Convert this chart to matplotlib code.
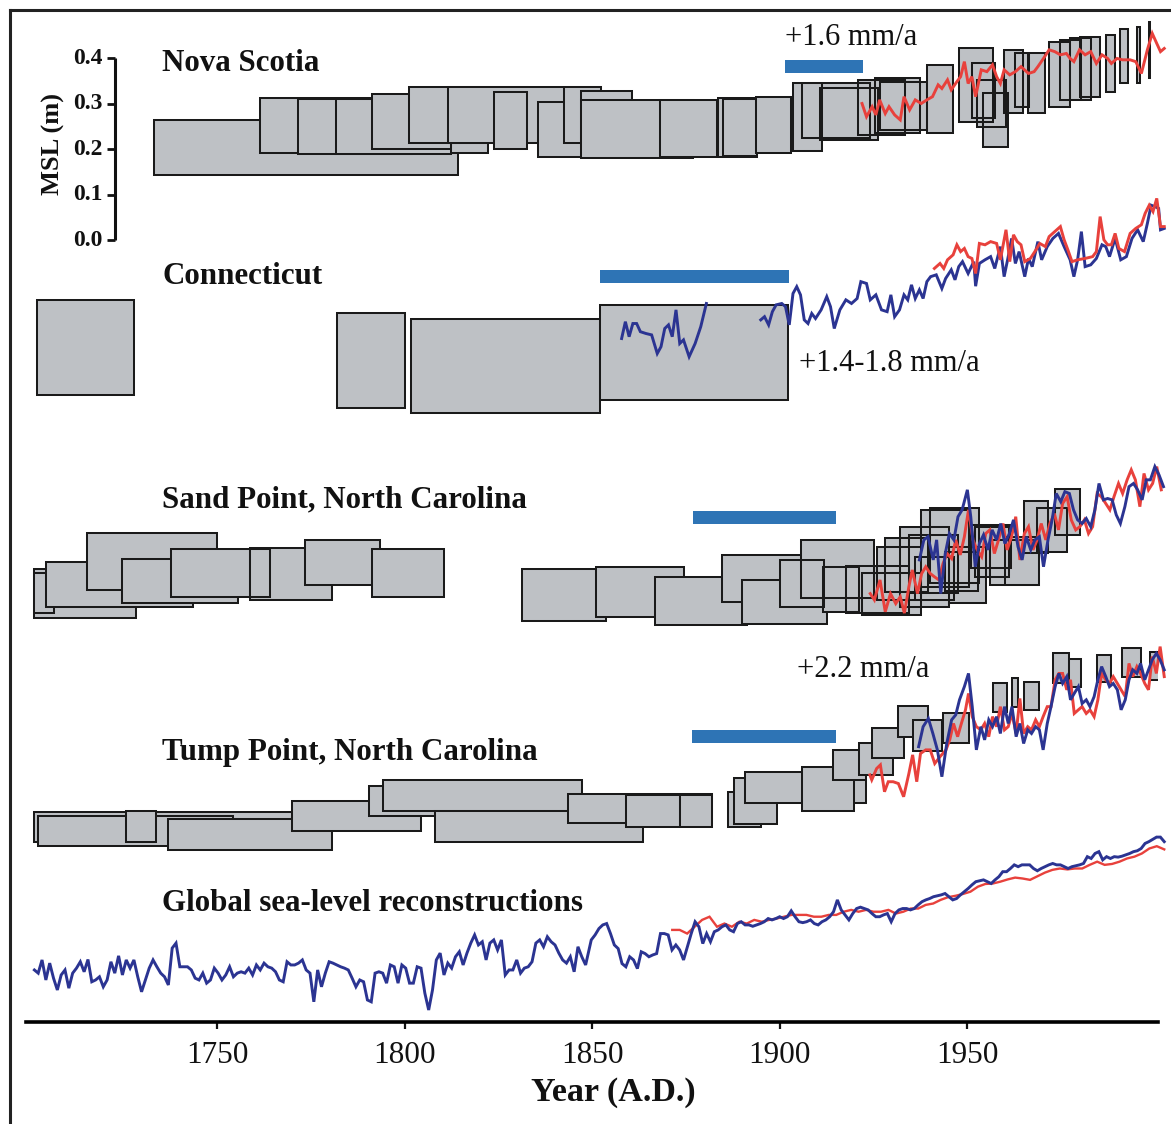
import numpy as np
import matplotlib
matplotlib.use("Agg")
import matplotlib.pyplot as plt
from matplotlib.patches import Rectangle
from matplotlib.lines import Line2D

plt.rcParams['font.family'] = ['Liberation Serif', 'DejaVu Serif']

# ---------------- DATA (years A.D., metres relative to each panel's own datum) ----------------
# Proxy boxes: (start year, end year, low MSL, high MSL)
nova_boxes = [
    (1733.2, 1814.3, 0.143, 0.264), (1761.5, 1822.3, 0.191, 0.312), (1771.6, 1801.7, 0.189, 0.310),
    (1781.7, 1812.4, 0.189, 0.310), (1791.3, 1812.4, 0.200, 0.321), (1801.2, 1832.7, 0.213, 0.336),
    (1811.6, 1852.4, 0.213, 0.336), (1823.9, 1832.7, 0.200, 0.325), (1835.6, 1858.8, 0.182, 0.303),
    (1842.5, 1852.4, 0.213, 0.336), (1847.1, 1860.7, 0.207, 0.327), (1847.1, 1876.9, 0.180, 0.308),
    (1868.4, 1876.9, 0.182, 0.303), (1868.0, 1883.4, 0.182, 0.308), (1883.6, 1894.0, 0.182, 0.312),
    (1885.0, 1894.0, 0.185, 0.310), (1893.7, 1903.1, 0.191, 0.314), (1903.6, 1911.3, 0.196, 0.345),
    (1906.0, 1924.1, 0.224, 0.345), (1910.8, 1926.3, 0.220, 0.334), (1921.0, 1933.5, 0.231, 0.352),
    (1925.5, 1937.5, 0.235, 0.356), (1926.8, 1939.3, 0.242, 0.347), (1939.3, 1946.3, 0.235, 0.385),
    (1947.9, 1956.9, 0.259, 0.422), (1951.3, 1957.5, 0.268, 0.389), (1952.7, 1960.4, 0.248, 0.352),
    (1954.3, 1960.9, 0.204, 0.323), (1959.9, 1964.9, 0.279, 0.418), (1962.8, 1966.5, 0.292, 0.411),
    (1966.3, 1970.8, 0.279, 0.411), (1971.9, 1977.5, 0.292, 0.435), (1974.8, 1980.4, 0.308, 0.440),
    (1977.5, 1983.1, 0.308, 0.444), (1980.1, 1985.5, 0.314, 0.446), (1987.1, 1989.5, 0.325, 0.451),
    (1990.8, 1993.0, 0.345, 0.464), (1995.3, 1996.1, 0.345, 0.468), (1998.5, 1998.7, 0.356, 0.479),
]
conn_boxes = [
    (1702.0, 1727.9, 0.121, 0.330), (1782.0, 1800.1, 0.092, 0.301),
    (1801.7, 1852.1, 0.081, 0.288), (1852.1, 1902.3, 0.110, 0.319),
]
sand_boxes = [
    (1701.2, 1728.4, 0.070, 0.178), (1701.2, 1706.5, 0.081, 0.169), (1704.4, 1743.6, 0.095, 0.193),
    (1715.3, 1750.0, 0.132, 0.257), (1724.7, 1755.6, 0.103, 0.200), (1737.7, 1764.1, 0.116, 0.222),
    (1758.8, 1780.7, 0.110, 0.224), (1758.8, 1764.1, 0.116, 0.222), (1773.5, 1793.5, 0.143, 0.242),
    (1791.3, 1810.5, 0.116, 0.222),
    (1831.3, 1853.7, 0.064, 0.178), (1851.1, 1874.5, 0.073, 0.182), (1866.8, 1891.3, 0.055, 0.160),
    (1884.7, 1908.7, 0.105, 0.209), (1890.0, 1912.7, 0.057, 0.154), (1900.1, 1911.9, 0.095, 0.198),
    (1905.7, 1925.2, 0.114, 0.242), (1911.6, 1921.2, 0.084, 0.182), (1917.7, 1934.5, 0.081, 0.185),
    (1922.0, 1937.7, 0.077, 0.169), (1926.0, 1937.7, 0.110, 0.226), (1928.1, 1939.6, 0.127, 0.246),
    (1932.1, 1945.2, 0.095, 0.270), (1934.5, 1947.5, 0.125, 0.253), (1937.7, 1950.5, 0.138, 0.308),
    (1940.1, 1953.2, 0.147, 0.312), (1945.2, 1955.0, 0.103, 0.226), (1951.1, 1961.7, 0.180, 0.275),
    (1952.1, 1961.2, 0.160, 0.270), (1956.1, 1969.2, 0.143, 0.242), (1960.1, 1969.2, 0.143, 0.248),
    (1965.2, 1971.6, 0.213, 0.327), (1968.7, 1976.7, 0.215, 0.312), (1973.5, 1980.1, 0.253, 0.354),
    (1936.0, 1946.5, 0.110, 0.205), (1944.0, 1953.0, 0.130, 0.215),
]
tump_boxes = [
    (1701.2, 1772.1, 0.084, 0.149), (1702.3, 1754.3, 0.075, 0.141), (1725.7, 1733.7, 0.084, 0.152),
    (1737.0, 1780.7, 0.066, 0.134), (1770.0, 1804.4, 0.108, 0.174), (1790.5, 1818.8, 0.141, 0.207),
    (1794.3, 1847.3, 0.152, 0.220), (1808.1, 1863.6, 0.084, 0.152), (1843.6, 1882.0, 0.125, 0.189),
    (1859.1, 1873.5, 0.116, 0.187), (1873.5, 1882.0, 0.116, 0.187), (1886.3, 1895.1, 0.116, 0.193),
    (1887.9, 1899.3, 0.123, 0.224), (1890.8, 1923.1, 0.169, 0.237), (1905.9, 1919.9, 0.152, 0.248),
    (1914.3, 1923.1, 0.220, 0.286), (1921.2, 1930.3, 0.231, 0.301), (1924.7, 1933.2, 0.268, 0.334),
    (1931.6, 1939.6, 0.314, 0.382), (1935.6, 1943.3, 0.284, 0.352), (1943.6, 1950.5, 0.301, 0.367),
    (1956.9, 1960.7, 0.369, 0.433), (1962.0, 1963.6, 0.380, 0.444), (1965.2, 1969.2, 0.374, 0.435),
    (1972.9, 1977.2, 0.433, 0.499), (1977.2, 1980.4, 0.424, 0.486), (1984.7, 1988.4, 0.435, 0.495),
    (1991.3, 1996.4, 0.446, 0.510), (1998.8, 2002.5, 0.440, 0.501),
]

# Rate periods (blue bars): (start, end, level)
nova_rate = (1901.5, 1922.3, 0.382)
conn_rate = (1852.1, 1902.5, 0.382)
sand_rate = (1876.9, 1915.1, 0.292)
tump_rate = (1876.7, 1915.1, 0.315)

# Nova Scotia tide gauge (red)
nova_red_yr = [1922.0, 1923.2, 1924.7, 1925.7, 1926.7, 1928.2, 1929.2, 1930.7, 1932.2, 1933.2, 1934.7, 1936.2,
               1937.8, 1939.3, 1940.8, 1942.3, 1943.3, 1944.8, 1945.8, 1947.3, 1948.3, 1949.3, 1950.3, 1951.3,
               1952.3, 1953.8, 1955.3, 1956.8, 1957.9, 1958.9, 1959.9, 1961.4, 1962.9, 1964.4, 1966.4, 1967.9,
               1968.9, 1970.4, 1971.9, 1973.4, 1974.9, 1976.5, 1977.5, 1978.5, 1980.0, 1981.5, 1983.0, 1984.5,
               1986.0, 1987.5, 1988.5, 1990.0, 1991.5, 1993.5, 1995.0, 1996.5, 1998.1, 1999.4, 2000.6, 2001.6,
               2002.6]
nova_red = [0.300, 0.271, 0.293, 0.275, 0.308, 0.278, 0.293, 0.275, 0.264, 0.315, 0.286, 0.308, 0.300, 0.308,
            0.315, 0.341, 0.333, 0.352, 0.330, 0.348, 0.359, 0.392, 0.344, 0.359, 0.315, 0.374, 0.370, 0.385,
            0.359, 0.344, 0.374, 0.363, 0.370, 0.381, 0.366, 0.370, 0.381, 0.399, 0.418, 0.414, 0.407, 0.410,
            0.399, 0.392, 0.418, 0.407, 0.414, 0.388, 0.407, 0.399, 0.388, 0.399, 0.396, 0.396, 0.392, 0.366,
            0.418, 0.454, 0.432, 0.414, 0.421]

# Connecticut tide gauges
conn_blue1_yr = [1857.9, 1858.9, 1859.9, 1860.9, 1861.9, 1862.9, 1864.4, 1865.9, 1867.4, 1868.4, 1869.4, 1870.4,
                 1871.4, 1872.4, 1873.4, 1874.4, 1875.9, 1877.5, 1879.0, 1880.5]
conn_blue1 = [0.245, 0.282, 0.249, 0.278, 0.278, 0.260, 0.256, 0.253, 0.212, 0.227, 0.267, 0.275, 0.249, 0.308,
              0.234, 0.242, 0.205, 0.234, 0.271, 0.322]
conn_blue2_yr = [1895.0, 1896.0, 1897.1, 1898.1, 1899.1, 1900.6, 1901.6, 1902.6, 1903.6, 1904.6, 1905.6, 1906.6,
                 1907.6, 1908.6, 1909.6, 1911.1, 1912.6, 1913.6, 1914.6, 1916.1, 1917.7, 1919.2, 1920.7, 1921.7,
                 1923.2, 1924.2, 1925.7, 1927.2, 1928.7, 1929.7, 1930.7, 1932.0, 1933.2, 1934.2, 1935.2, 1936.2,
                 1937.3, 1938.3, 1939.3, 1940.3, 1941.8, 1943.3, 1944.3, 1945.8, 1946.8, 1947.8, 1948.8, 1950.3,
                 1951.8, 1952.3, 1953.3, 1954.8, 1956.3, 1957.4, 1958.9, 1959.9, 1960.9, 1961.9, 1962.9, 1963.9,
                 1965.4, 1966.4, 1967.4, 1968.9, 1969.9, 1971.4, 1972.9, 1974.4, 1975.9, 1977.5, 1978.5, 1979.5,
                 1980.5, 1981.5, 1983.0, 1984.5, 1986.0, 1987.0, 1988.0, 1989.5, 1991.0, 1992.5, 1994.0, 1995.5,
                 1997.0, 1998.1, 1999.1, 2000.1, 2001.1, 2001.6, 2002.6]
conn_blue2 = [0.286, 0.293, 0.275, 0.304, 0.319, 0.322, 0.315, 0.275, 0.344, 0.359, 0.341, 0.286, 0.278, 0.300,
              0.289, 0.308, 0.337, 0.315, 0.267, 0.308, 0.330, 0.322, 0.333, 0.370, 0.366, 0.330, 0.341, 0.308,
              0.304, 0.341, 0.293, 0.308, 0.341, 0.330, 0.363, 0.333, 0.352, 0.333, 0.370, 0.381, 0.385, 0.355,
              0.377, 0.396, 0.374, 0.403, 0.414, 0.388, 0.414, 0.360, 0.410, 0.418, 0.425, 0.399, 0.447, 0.381,
              0.421, 0.465, 0.410, 0.436, 0.381, 0.421, 0.403, 0.458, 0.418, 0.447, 0.465, 0.476, 0.447, 0.418,
              0.381, 0.418, 0.480, 0.403, 0.407, 0.421, 0.451, 0.447, 0.425, 0.465, 0.418, 0.425, 0.465, 0.484,
              0.458, 0.498, 0.538, 0.535, 0.531, 0.484, 0.487]
conn_red_yr = [1941.3, 1942.8, 1943.8, 1944.8, 1946.3, 1947.3, 1948.3, 1949.3, 1950.3, 1951.3, 1952.3, 1953.3,
               1954.8, 1956.3, 1957.9, 1958.9, 1960.4, 1961.4, 1962.4, 1963.4, 1964.4, 1965.4, 1966.9, 1968.4,
               1969.4, 1970.9, 1971.9, 1973.4, 1974.9, 1975.9, 1976.9, 1978.0, 1979.5, 1981.5, 1983.5, 1984.5,
               1985.5, 1986.5, 1987.5, 1988.5, 1989.5, 1990.5, 1992.0, 1993.5, 1995.0, 1996.5, 1997.5, 1998.6,
               1999.6, 2000.6, 2001.6, 2002.6]
conn_red = [0.399, 0.410, 0.399, 0.418, 0.429, 0.451, 0.436, 0.443, 0.425, 0.421, 0.388, 0.454, 0.451, 0.458,
            0.454, 0.418, 0.484, 0.414, 0.473, 0.458, 0.451, 0.414, 0.421, 0.440, 0.454, 0.447, 0.469, 0.480,
            0.491, 0.462, 0.440, 0.414, 0.418, 0.421, 0.425, 0.436, 0.513, 0.462, 0.451, 0.451, 0.476, 0.443,
            0.436, 0.476, 0.487, 0.495, 0.520, 0.538, 0.524, 0.553, 0.491, 0.491]

# Sand Point tide gauges
sand_red_yr = [1924.2, 1925.3, 1926.8, 1928.2, 1929.6, 1931.0, 1932.2, 1933.3, 1934.5, 1935.4, 1936.8, 1937.9,
               1939.0, 1940.2, 1941.3, 1942.5, 1943.6, 1944.7, 1945.9, 1947.0, 1948.2, 1949.3, 1950.4, 1951.6,
               1952.7, 1953.9, 1955.0, 1956.1, 1957.3, 1958.4, 1959.6, 1960.7, 1961.9, 1963.0, 1964.1, 1965.3,
               1966.4, 1967.6, 1968.7, 1969.8, 1971.0, 1972.1, 1973.3, 1974.4, 1975.5, 1976.7, 1977.8, 1979.0,
               1980.1, 1981.3, 1982.4, 1983.5, 1984.7, 1985.8, 1987.0, 1988.1, 1989.2, 1990.4, 1991.5, 1992.7,
               1993.8, 1994.9, 1996.1, 1997.2, 1998.4, 1999.5, 2000.6, 2001.8]
sand_red = [0.124, 0.110, 0.154, 0.084, 0.124, 0.102, 0.117, 0.081, 0.139, 0.176, 0.124, 0.168, 0.183, 0.168,
            0.161, 0.154, 0.190, 0.212, 0.201, 0.242, 0.209, 0.249, 0.308, 0.242, 0.220, 0.205, 0.256, 0.264,
            0.212, 0.242, 0.278, 0.220, 0.249, 0.293, 0.198, 0.256, 0.271, 0.220, 0.242, 0.278, 0.242, 0.278,
            0.300, 0.264, 0.322, 0.337, 0.286, 0.264, 0.271, 0.286, 0.256, 0.271, 0.344, 0.337, 0.322, 0.308,
            0.337, 0.366, 0.344, 0.374, 0.396, 0.374, 0.315, 0.388, 0.352, 0.366, 0.403, 0.352]
sand_blue_yr = [1937.3, 1938.5, 1939.6, 1941.0, 1941.9, 1943.0, 1944.2, 1945.3, 1946.5, 1947.6, 1948.7, 1950.1,
                1951.0, 1952.2, 1953.3, 1954.4, 1955.6, 1956.7, 1957.9, 1959.0, 1960.1, 1961.3, 1962.4, 1963.6,
                1964.7, 1965.8, 1967.0, 1968.1, 1969.3, 1970.4, 1971.6, 1972.7, 1973.8, 1975.0, 1976.1, 1977.3,
                1978.4, 1979.5, 1980.7, 1981.8, 1983.0, 1984.1, 1985.2, 1986.4, 1987.5, 1988.7, 1989.8, 1990.9,
                1992.1, 1993.2, 1994.4, 1995.5, 1996.7, 1997.8, 1998.9, 2000.1, 2001.2, 2002.4]
sand_blue = [0.198, 0.242, 0.249, 0.198, 0.242, 0.124, 0.212, 0.256, 0.242, 0.293, 0.308, 0.352, 0.293, 0.183,
             0.234, 0.253, 0.220, 0.264, 0.242, 0.278, 0.234, 0.256, 0.286, 0.227, 0.198, 0.249, 0.220, 0.242,
             0.249, 0.183, 0.242, 0.286, 0.344, 0.326, 0.348, 0.344, 0.308, 0.286, 0.278, 0.289, 0.271, 0.308,
             0.366, 0.330, 0.333, 0.330, 0.297, 0.278, 0.315, 0.359, 0.366, 0.352, 0.330, 0.374, 0.374, 0.403,
             0.385, 0.359]

# Tump Point tide gauges
tump_red_yr = [1924.1, 1924.6, 1925.9, 1926.9, 1928.0, 1929.0, 1930.3, 1931.7, 1933.1, 1934.5, 1935.5, 1936.6,
               1937.6, 1939.0, 1940.2, 1941.4, 1942.8, 1944.4, 1945.4, 1946.4, 1947.5, 1948.5, 1949.6, 1950.4,
               1951.4, 1952.5, 1953.7, 1954.7, 1955.8, 1956.8, 1957.9, 1958.9, 1960.0, 1961.0, 1962.0, 1963.1,
               1964.1, 1965.1, 1966.2, 1967.2, 1968.3, 1969.3, 1970.3, 1971.4, 1972.4, 1973.5, 1974.5, 1975.5,
               1976.6, 1977.6, 1978.6, 1979.7, 1980.7, 1981.8, 1982.8, 1983.9, 1984.9, 1985.9, 1987.0, 1988.0,
               1989.0, 1990.1, 1991.1, 1992.2, 1993.2, 1994.2, 1995.3, 1996.3, 1997.4, 1998.4, 1999.4, 2000.5,
               2001.5, 2002.6]
tump_red = [0.231, 0.220, 0.245, 0.253, 0.194, 0.216, 0.216, 0.212, 0.183, 0.234, 0.275, 0.216, 0.278, 0.286,
            0.286, 0.256, 0.271, 0.286, 0.308, 0.344, 0.315, 0.344, 0.374, 0.410, 0.359, 0.337, 0.330, 0.344,
            0.315, 0.359, 0.337, 0.381, 0.330, 0.337, 0.366, 0.322, 0.399, 0.322, 0.337, 0.330, 0.352, 0.337,
            0.359, 0.381, 0.381, 0.440, 0.454, 0.454, 0.418, 0.440, 0.366, 0.374, 0.381, 0.366, 0.374, 0.359,
            0.396, 0.454, 0.440, 0.432, 0.447, 0.432, 0.418, 0.403, 0.476, 0.447, 0.469, 0.454, 0.432, 0.418,
            0.491, 0.454, 0.513, 0.447]
tump_blue_yr = [1937.1, 1938.3, 1939.7, 1940.9, 1942.1, 1943.3, 1944.6, 1945.9, 1947.0, 1948.0, 1949.3, 1950.4,
                1951.4, 1952.5, 1953.7, 1954.7, 1955.8, 1956.8, 1957.9, 1958.9, 1960.0, 1961.0, 1962.0, 1963.1,
                1964.1, 1965.1, 1966.2, 1967.2, 1968.3, 1969.3, 1970.3, 1971.4, 1972.4, 1973.5, 1974.5, 1975.5,
                1976.6, 1977.6, 1978.6, 1979.7, 1980.7, 1981.8, 1982.8, 1983.9, 1984.9, 1985.9, 1987.0, 1988.0,
                1989.0, 1990.1, 1991.1, 1992.2, 1993.2, 1994.2, 1995.3, 1996.3, 1997.4, 1998.4, 1999.4, 2000.5,
                2001.5, 2002.6]
tump_blue = [0.293, 0.337, 0.355, 0.322, 0.286, 0.227, 0.300, 0.352, 0.363, 0.396, 0.425, 0.454, 0.381, 0.286,
             0.337, 0.308, 0.352, 0.337, 0.359, 0.322, 0.381, 0.344, 0.381, 0.315, 0.344, 0.300, 0.330, 0.322,
             0.337, 0.330, 0.286, 0.344, 0.381, 0.425, 0.454, 0.432, 0.447, 0.396, 0.410, 0.425, 0.388, 0.396,
             0.381, 0.403, 0.440, 0.469, 0.447, 0.425, 0.432, 0.418, 0.374, 0.396, 0.440, 0.462, 0.454, 0.476,
             0.440, 0.462, 0.484, 0.498, 0.484, 0.462]

# Global reconstructions
glob_blue_early = [0.088, 0.081, 0.110, 0.066, 0.103, 0.070, 0.044, 0.077, 0.088, 0.048, 0.081, 0.092, 0.106,
                   0.084, 0.111, 0.062, 0.066, 0.073, 0.051, 0.066, 0.106, 0.081, 0.119, 0.077, 0.110, 0.092,
                   0.110, 0.073, 0.040, 0.066, 0.092, 0.110, 0.095, 0.081, 0.073, 0.055, 0.136, 0.147, 0.095,
                   0.095, 0.095, 0.088, 0.070, 0.066, 0.081, 0.059, 0.066, 0.092, 0.081, 0.066, 0.077, 0.095,
                   0.073, 0.081, 0.084, 0.081, 0.092, 0.077, 0.099, 0.088, 0.103, 0.095, 0.092, 0.084, 0.066,
                   0.062, 0.106, 0.099, 0.099, 0.103, 0.110, 0.088, 0.081, 0.018, 0.088, 0.051, 0.081, 0.106,
                   0.103, 0.099, 0.095, 0.092, 0.088, 0.070, 0.051, 0.066, 0.062, 0.022, 0.018, 0.081, 0.084,
                   0.081, 0.059, 0.099, 0.095, 0.059, 0.099, 0.092, 0.059, 0.059, 0.095, 0.092, 0.037, 0.000,
                   0.044, 0.110, 0.125, 0.077, 0.103, 0.092, 0.117, 0.128, 0.099, 0.125, 0.147, 0.165, 0.143,
                   0.150, 0.110, 0.147, 0.154, 0.132, 0.154, 0.077, 0.088, 0.088, 0.110, 0.081, 0.092, 0.095,
                   0.106, 0.147, 0.154, 0.139, 0.161, 0.150, 0.143, 0.125, 0.110, 0.103, 0.117, 0.084, 0.139,
                   0.117, 0.099]
glob_blue_early_span = (1701.3, 1848.3)
glob_blue_late = [0.154, 0.165, 0.179, 0.187, 0.190, 0.168, 0.143, 0.135, 0.102, 0.095, 0.117, 0.110, 0.091,
                  0.128, 0.124, 0.117, 0.121, 0.124, 0.168, 0.168, 0.165, 0.132, 0.143, 0.132, 0.110, 0.139,
                  0.168, 0.194, 0.183, 0.146, 0.168, 0.150, 0.172, 0.176, 0.183, 0.187, 0.176, 0.172, 0.190,
                  0.194, 0.187, 0.187, 0.184, 0.187, 0.190, 0.194, 0.201, 0.198, 0.201, 0.205, 0.201, 0.205,
                  0.218, 0.205, 0.194, 0.192, 0.194, 0.198, 0.190, 0.187, 0.194, 0.198, 0.205, 0.216, 0.242,
                  0.220, 0.209, 0.198, 0.212, 0.223, 0.226, 0.223, 0.220, 0.212, 0.205, 0.205, 0.209, 0.212,
                  0.194, 0.212, 0.220, 0.223, 0.223, 0.220, 0.223, 0.231, 0.238, 0.242, 0.245, 0.249, 0.251,
                  0.253, 0.256, 0.249, 0.242, 0.245, 0.253, 0.260, 0.267, 0.275, 0.282, 0.284, 0.286, 0.282,
                  0.278, 0.286, 0.293, 0.304, 0.304, 0.311, 0.319, 0.315, 0.319, 0.319, 0.319, 0.311, 0.306,
                  0.311, 0.315, 0.319, 0.322, 0.319, 0.319, 0.315, 0.311, 0.315, 0.317, 0.319, 0.322, 0.337,
                  0.333, 0.344, 0.348, 0.330, 0.337, 0.333, 0.337, 0.336, 0.338, 0.341, 0.344, 0.348, 0.350,
                  0.355, 0.366, 0.370, 0.375, 0.380, 0.380, 0.370]
glob_blue_late_span = (1849.8, 2002.6)
glob_red = [0.176, 0.176, 0.168, 0.183, 0.198, 0.205, 0.183, 0.190, 0.183, 0.194, 0.190, 0.198, 0.194, 0.198,
            0.201, 0.205, 0.209, 0.209, 0.209, 0.205, 0.205, 0.209, 0.209, 0.216, 0.220, 0.216, 0.220, 0.216,
            0.216, 0.220, 0.212, 0.216, 0.223, 0.223, 0.231, 0.234, 0.242, 0.248, 0.251, 0.255, 0.260, 0.271,
            0.277, 0.278, 0.282, 0.287, 0.291, 0.289, 0.286, 0.294, 0.302, 0.308, 0.311, 0.309, 0.311, 0.311,
            0.319, 0.326, 0.319, 0.321, 0.326, 0.333, 0.337, 0.344, 0.355, 0.360, 0.353]
glob_red_span = (1871.4, 2002.6)

scale_ticks = [0.0, 0.1, 0.2, 0.3, 0.4]
scale_labels = ['0.0', '0.1', '0.2', '0.3', '0.4']
x_ticks = [1750, 1800, 1850, 1900, 1950]

# ---------------- LAYOUT ----------------
W, H = 1171, 1124
PXM = 455.0          # pixels per metre
PXY = 3.75           # pixels per year
AX_L, AX_R, AX_B, AX_T = 26, 1158, 1022, 10
OFF = {'nova': (AX_B - 240) / PXM, 'conn': (AX_B - 450) / PXM, 'sand': (AX_B - 650) / PXM,
       'tump': (AX_B - 880) / PXM, 'glob': (AX_B - 1010) / PXM}

BOX_FACE = '#BEC1C5'
BOX_EDGE = '#1A1A1A'
BAR = '#2E74B5'
BLUE = '#2B3492'
RED = '#E8413C'
TXT = '#111111'

fig = plt.figure(figsize=(W / 100, H / 100), dpi=100)
ax = fig.add_axes([AX_L / W, (H - AX_B) / H, (AX_R - AX_L) / W, (AX_B - AX_T) / H])
x0 = 1700 + (AX_L - 29.5) / PXY
x1 = 1700 + (AX_R - 29.5) / PXY
ax.set_xlim(x0, x1)
ax.set_ylim(0, (AX_B - AX_T) / PXM)

for s in ['left', 'right', 'top']:
    ax.spines[s].set_visible(False)
ax.spines['bottom'].set_linewidth(2.6)
ax.set_yticks([])
ax.set_xticks(x_ticks)
ax.tick_params(axis='x', direction='out', length=5, width=1.6, pad=9, labelsize=22.5, colors=TXT)
ax.set_facecolor('none')


def draw_boxes(boxes, off, edges_on_top_from=None):
    """Boxes drawn in order; boxes starting after `edges_on_top_from` get their outlines
    drawn above all fills (dense overlapping clusters)."""
    late = []
    for i, (a, b, lo, hi) in enumerate(boxes):
        if edges_on_top_from is not None and a >= edges_on_top_from:
            late.append((a, b, lo, hi))
            ax.add_patch(Rectangle((a, lo + off), b - a, hi - lo, facecolor=BOX_FACE,
                                   edgecolor='none', zorder=2.5))
        else:
            ax.add_patch(Rectangle((a, lo + off), b - a, hi - lo, facecolor=BOX_FACE,
                                   edgecolor=BOX_EDGE, lw=1.45, zorder=2 + i * 0.001))
    for (a, b, lo, hi) in late:
        ax.add_patch(Rectangle((a, lo + off), b - a, hi - lo, facecolor='none',
                               edgecolor=BOX_EDGE, lw=1.45, zorder=2.6))


def draw_line(yr, val, off, color, lw=2.1):
    n = min(len(yr), len(val))
    ax.plot(np.asarray(yr[:n]), np.asarray(val[:n]) + off, color=color, lw=lw, zorder=4,
            solid_joinstyle='miter', clip_on=False)


def span_years(vals, span):
    return list(np.linspace(span[0], span[1], len(vals)))


def draw_rate(rate, off):
    a, b, lev = rate
    h = 13 / PXM
    ax.add_patch(Rectangle((a, lev + off - h / 2), b - a, h, facecolor=BAR, edgecolor='none', zorder=3))


def title(txt, off, lev):
    ax.text(1700 + (162 - 29.5) / PXY, lev + off, txt, fontsize=22.3, fontweight='bold',
            ha='left', va='center', color=TXT)


def note(txt, xpx, off, lev):
    ax.text(1700 + (xpx - 29.5) / PXY, lev + off, txt, fontsize=22, ha='left', va='center', color=TXT)


# Nova Scotia
o = OFF['nova']
draw_boxes(nova_boxes, o, edges_on_top_from=1903)
draw_line(nova_red_yr, nova_red, o, RED)
draw_rate(nova_rate, o)
title('Nova Scotia', o, 0.389)
note('+1.6 mm/a', 785, o, 0.444)

# scale bar
sx = 1700 + (115 - 29.5) / PXY
stk = 1700 + (107 - 29.5) / PXY
slab = 1700 + (103 - 29.5) / PXY
ax.plot([sx, sx], [o + scale_ticks[0], o + scale_ticks[-1]], color=TXT, lw=2.2, solid_capstyle='butt')
for v, lab in zip(scale_ticks, scale_labels):
    ax.plot([stk, sx], [o + v, o + v], color=TXT, lw=2.0, solid_capstyle='butt')
    ax.text(slab, o + v, lab, fontsize=17, fontweight='bold', ha='right', va='center', color=TXT)
ax.text(1700 + (53 - 29.5) / PXY, o + 0.212, 'MSL (m)', fontsize=19, fontweight='bold',
        rotation=90, ha='center', va='center', color=TXT)

# Connecticut
o = OFF['conn']
draw_boxes(conn_boxes, o)
draw_line(conn_blue1_yr, conn_blue1, o, BLUE)
draw_line(conn_blue2_yr, conn_blue2, o, BLUE)
draw_line(conn_red_yr, conn_red, o, RED)
draw_rate(conn_rate, o)
title('Connecticut', o, 0.382)
note('+1.4-1.8 mm/a', 799, o, 0.191)

# Sand Point
o = OFF['sand']
draw_boxes(sand_boxes, o, edges_on_top_from=1900)
draw_line(sand_red_yr, sand_red, o, RED)
draw_line(sand_blue_yr, sand_blue, o, BLUE)
draw_rate(sand_rate, o)
title('Sand Point, North Carolina', o, 0.330)

# Tump Point
o = OFF['tump']
draw_boxes(tump_boxes, o)
draw_line(tump_red_yr, tump_red, o, RED)
draw_line(tump_blue_yr, tump_blue, o, BLUE)
draw_rate(tump_rate, o)
title('Tump Point, North Carolina', o, 0.281)
note('+2.2 mm/a', 797, o, 0.462)

# Global
o = OFF['glob']
glob_yr = span_years(glob_blue_early, glob_blue_early_span) + span_years(glob_blue_late, glob_blue_late_span)
draw_line(span_years(glob_red, glob_red_span), glob_red, o, RED, 1.7)
draw_line(glob_yr, glob_blue_early + glob_blue_late, o, BLUE, 2.1)
title('Global sea-level reconstructions', o, 0.235)

# x label
fig.text(613 / W, 1 - 1092 / H, 'Year (A.D.)', fontsize=24.5, fontweight='bold',
         ha='center', va='center', color=TXT)

# outer frame (cropped)
fig.add_artist(Line2D([10 / W, 1.0], [1 - 10 / H, 1 - 10 / H], transform=fig.transFigure, color='#222222', lw=2.2))
fig.add_artist(Line2D([10 / W, 10 / W], [0.0, 1 - 10 / H], transform=fig.transFigure, color='#222222', lw=2.2))

fig.savefig('out.png', dpi=100, facecolor='white')
